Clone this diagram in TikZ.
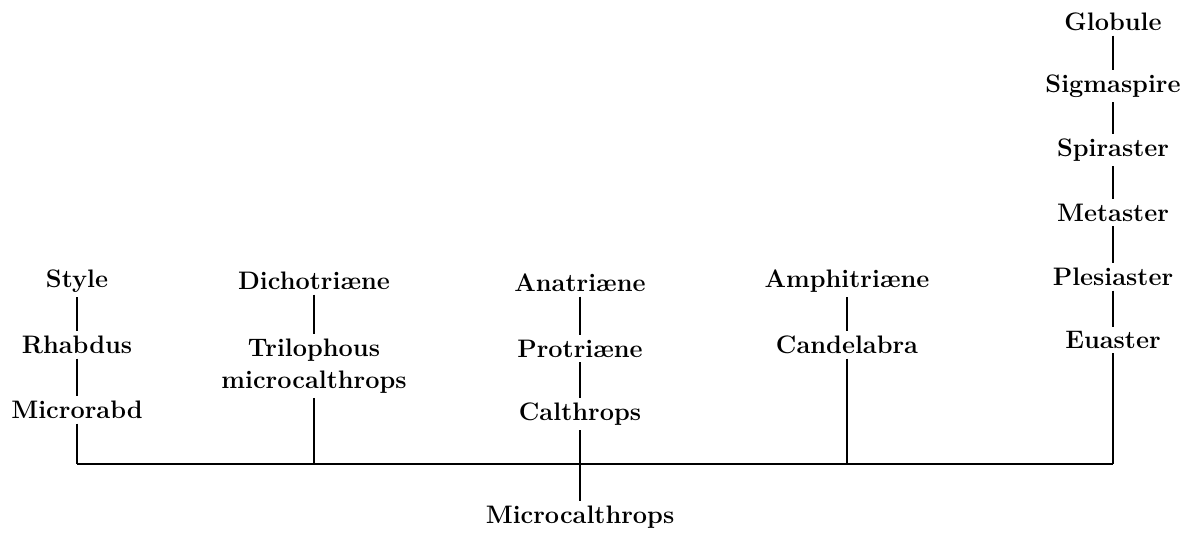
\documentclass[tikz,border=0pt]{standalone}
\usepackage{fontspec}
\usepackage{tikz}
\usetikzlibrary{positioning}

\begin{document}
\begin{tikzpicture}[
  term/.style={font=\fontsize{14.4}{18}\selectfont\bfseries,align=center,inner sep=2.5pt},
  link/.style={line width=1.1pt,draw=black}
]
\useasboundingbox (0,0) rectangle (23.74,10.66);
\node[term] (style) at (1.54,5.04) {Style};
\node[term] (rhabdus) at (1.54,3.76) {Rhabdus};
\node[term] (microrabd) at (1.54,2.46) {Microrabd};

\node[term] (dicho) at (6.28,5.04) {Dichotriæne};
\node[term] (triloph) at (6.28,3.34) {Trilophous\\microcalthrops};

\node[term] (anatr) at (11.60,5.00) {Anatriæne};
\node[term] (protr) at (11.60,3.68) {Protriæne};
\node[term] (calthr) at (11.60,2.38) {Calthrops};
\node[term] (microcal) at (11.60,0.32) {Microcalthrops};

\node[term] (amphi) at (16.94,5.04) {Amphitriæne};
\node[term] (candel) at (16.94,3.76) {Candelabra};

\node[term] (globule) at (22.26,10.22) {Globule};
\node[term] (sigma) at (22.26,8.94) {Sigmaspire};
\node[term] (spira) at (22.26,7.66) {Spiraster};
\node[term] (meta) at (22.26,6.40) {Metaster};
\node[term] (plesi) at (22.26,5.12) {Plesiaster};
\node[term] (euaster) at (22.26,3.86) {Euaster};

\coordinate (j1) at (1.54,1.38);
\coordinate (j2) at (6.28,1.38);
\coordinate (j4) at (16.94,1.38);
\coordinate (j5) at (22.26,1.38);

% chains
\draw[link] (style) -- (rhabdus);
\draw[link] (rhabdus) -- (microrabd);
\draw[link] (microrabd) -- (j1);
\draw[link] (dicho) -- (triloph);
\draw[link] (triloph) -- (j2);
\draw[link] (anatr) -- (protr);
\draw[link] (protr) -- (calthr);
\draw[link] (calthr) -- (microcal);
\draw[link] (amphi) -- (candel);
\draw[link] (candel) -- (j4);
\draw[link] (globule) -- (sigma);
\draw[link] (sigma) -- (spira);
\draw[link] (spira) -- (meta);
\draw[link] (meta) -- (plesi);
\draw[link] (plesi) -- (euaster);
\draw[link] (euaster) -- (j5);
% base line
\draw[link] (j1) -- (j5);
\end{tikzpicture}
\end{document}
